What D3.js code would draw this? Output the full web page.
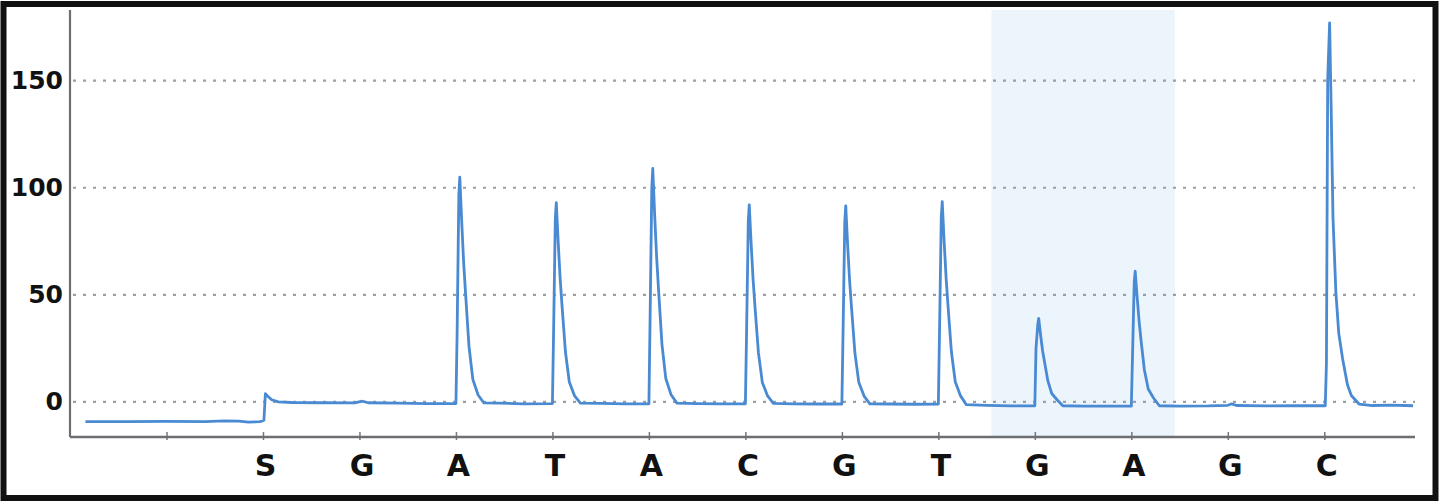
<!DOCTYPE html>
<html><head><meta charset="utf-8">
<script src="https://cdn.jsdelivr.net/npm/d3@7"></script>
<style>html,body{margin:0;padding:0;background:#fff;}svg{display:block;}</style>
</head><body><svg id="c" width="1440" height="504"></svg>
<script>
// Dispensation order (tick index 1..13)
const dispensations = ["", "S", "G", "A", "T", "A", "C", "G", "T", "G", "A", "G", "C"];
const dispIndex = [1, 2, 3, 4, 5, 6, 7, 8, 9, 10, 11, 12, 13];
const yTicks = [0, 50, 100, 150];
const highlight = [9.55, 11.45];
// Light signal trace: [dispensation position, signal]
const baselineStart = [[0.16,-9.2],[0.6,-9.2],[1.0,-9.1],[1.4,-9.2],[1.6,-8.9],[1.75,-9.0],[1.85,-9.5],[1.97,-9.2]];
const peakS = [[2.01,-8.5],[2.025,3.8],[2.05,2.6],[2.09,1.0],[2.16,0.0],[2.3,-0.3],[2.6,-0.4],[2.95,-0.5],[3.03,0.3],[3.09,-0.4],[3.4,-0.6],[3.7,-0.8],[4.0,-0.8]];
const peakA1 = [[4.012,31.5],[4.03,96.6],[4.04,105],[4.06,84],[4.08,65],[4.10,50.4],[4.135,26],[4.175,10.5],[4.23,3.2],[4.29,-0.5],[4.45,-0.6],[4.7,-0.9],[5.0,-0.8]];
const peakT1 = [[5.012,32.5],[5.03,85.6],[5.04,93],[5.06,74.4],[5.08,57.7],[5.10,44.6],[5.135,23.3],[5.175,9.3],[5.23,2.8],[5.29,-0.6],[5.5,-0.7],[5.75,-0.9],[6.0,-0.9]];
const peakA2 = [[6.012,38],[6.03,100],[6.04,109],[6.06,87],[6.08,67.6],[6.10,52.3],[6.135,27],[6.175,10.9],[6.23,3.3],[6.29,-0.6],[6.5,-0.8],[6.75,-0.9],[7.0,-0.9]];
const peakC1 = [[7.012,32],[7.03,84.6],[7.04,92],[7.06,73.6],[7.08,57],[7.10,44],[7.135,23],[7.175,9.2],[7.23,2.8],[7.29,-0.7],[7.5,-0.9],[7.75,-1.0],[8.0,-1.0]];
const peakG1 = [[8.012,32],[8.03,84],[8.04,91.5],[8.06,73],[8.08,56.7],[8.10,44],[8.135,22.9],[8.175,9.2],[8.23,2.7],[8.29,-0.9],[8.5,-1.0],[8.75,-1.1],[9.0,-1.0]];
const peakT2 = [[9.012,32.7],[9.03,86],[9.04,93.5],[9.06,74.8],[9.08,58],[9.10,44.9],[9.135,23.4],[9.175,9.4],[9.23,2.8],[9.29,-1.3],[9.5,-1.6],[9.75,-1.9],[10.0,-1.8]];
const peakG2 = [[10.012,25],[10.03,36],[10.04,39],[10.06,31],[10.08,24],[10.10,18.7],[10.135,9.8],[10.175,3.9],[10.23,1],[10.29,-1.8],[10.5,-2.0],[10.75,-2.0],[11.0,-2.0]];
const peakA3 = [[11.012,21],[11.03,56],[11.04,61],[11.06,49],[11.08,38],[11.10,29],[11.135,15],[11.175,6],[11.23,1.8],[11.29,-1.8],[11.5,-2.0],[11.8,-1.9],[12.0,-1.6],[12.04,-0.9],[12.09,-1.7],[12.4,-1.9],[12.7,-1.8],[13.01,-1.8]];
const peakC2 = [[13.022,18],[13.035,150],[13.055,177],[13.07,140],[13.09,86],[13.12,51],[13.15,32],[13.19,20],[13.24,8],[13.28,3],[13.36,-1],[13.5,-1.7],[13.7,-1.5],[13.92,-1.8]];
const trace = [].concat(baselineStart, peakS, peakA1, peakT1, peakA2, peakC1, peakG1, peakT2, peakG2, peakA3, peakC2);

const svg = d3.select("#c");
const x = d3.scaleLinear().domain([0, 13.94]).range([70, 1415]);
const y = d3.scaleLinear().domain([-16.4, 183]).range([437, 10]);

// frame
svg.append("rect").attr("x", 3.5).attr("y", 4).attr("width", 1432).attr("height", 494)
  .attr("fill", "#fff").attr("stroke", "#111").attr("stroke-width", 6);

// highlight band
svg.append("rect").attr("x", x(highlight[0])).attr("y", y.range()[1])
  .attr("width", x(highlight[1]) - x(highlight[0])).attr("height", y.range()[0] - y.range()[1])
  .attr("fill", "#edf5fc");

// gridlines
svg.append("g").selectAll("line").data(yTicks).join("line")
  .attr("x1", x(0) + 3).attr("x2", x.range()[1]).attr("y1", d => y(d)).attr("y2", d => y(d))
  .attr("stroke", "#9a9fa6").attr("stroke-width", 2.2).attr("stroke-dasharray", "3,7");

// y axis
const ya = svg.append("g").attr("transform", `translate(${x(0)},0)`)
  .call(d3.axisLeft(y).tickValues(yTicks).tickSize(0).tickPadding(7));
ya.select(".domain").remove();
ya.selectAll("text").attr("font-family", "DejaVu Sans").attr("font-weight", "bold")
  .attr("font-size", 25).attr("fill", "#111");
svg.append("line").attr("x1", x(0)).attr("x2", x(0)).attr("y1", y.range()[1]).attr("y2", y.range()[0])
  .attr("stroke", "#6b6e72").attr("stroke-width", 2.2);

// x axis
const xa = svg.append("g").attr("transform", `translate(0,${y.range()[0]})`)
  .call(d3.axisBottom(x).tickValues(dispIndex).tickFormat((d, i) => dispensations[i]).tickSize(0).tickPadding(18));
xa.select(".domain").remove();
xa.selectAll(".tick").append("line").attr("y1", -5).attr("y2", 3).attr("stroke", "#777").attr("stroke-width", 1.5);
xa.selectAll("text").attr("font-family", "DejaVu Sans").attr("font-weight", "bold")
  .attr("font-size", 30).attr("fill", "#111").attr("dx", 2);
svg.append("line").attr("x1", x(0)).attr("x2", x.range()[1]).attr("y1", y.range()[0]).attr("y2", y.range()[0])
  .attr("stroke", "#6b6e72").attr("stroke-width", 2.4);

// trace
svg.append("path").datum(trace)
  .attr("d", d3.line().x(d => x(d[0])).y(d => y(d[1])))
  .attr("fill", "none").attr("stroke", "#4a8ad3").attr("stroke-width", 2.8).attr("stroke-linejoin", "round");
</script></body></html>
